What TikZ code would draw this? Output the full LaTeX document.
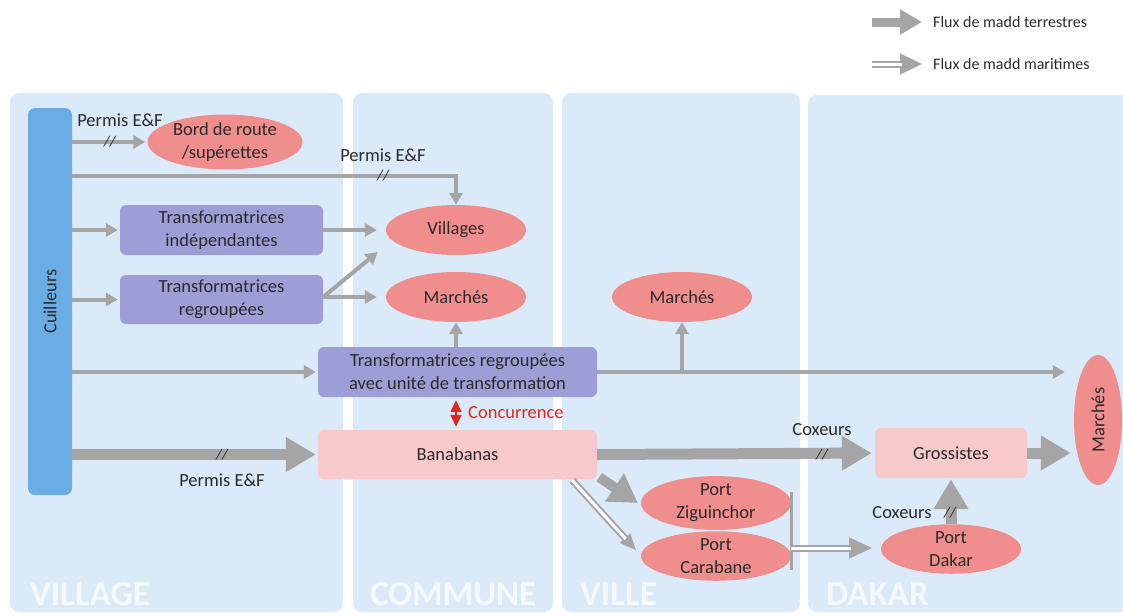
\documentclass[tikz,border=0pt]{standalone}
\usepackage{fontspec}
\setmainfont{Carlito}
\usetikzlibrary{arrows.meta,shapes.geometric,calc}
\definecolor{panelbg}{HTML}{DAEAF8}
\definecolor{barblue}{HTML}{6AADE5}
\definecolor{salmon}{HTML}{F08D8D}
\definecolor{lav}{HTML}{9D9ED6}
\definecolor{pinkbox}{HTML}{F8C9CA}
\definecolor{agray}{HTML}{A5A5A5}
\definecolor{txt}{HTML}{2A2A2A}
\definecolor{cred}{HTML}{E52521}
\definecolor{plab}{HTML}{F4F9FE}
\begin{document}
\begin{tikzpicture}[x=1pt,y=-1pt, font=\fontsize{18.5}{23}\selectfont, text=txt,
  panel/.style={fill=panelbg, rounded corners=9pt},
  plabel/.style={font=\fontsize{35}{35}\selectfont\bfseries, text=plab, anchor=base west, inner sep=0pt},
  ell/.style={ellipse, fill=salmon, inner sep=0pt, align=center},
  pbox/.style={rectangle, rounded corners=6pt, fill=lav, inner sep=0pt, align=center},
  kbox/.style={rectangle, rounded corners=6pt, fill=pinkbox, inner sep=0pt, align=center},
  tarr/.style={draw=agray, line width=4pt, -{Triangle[length=12pt,width=13pt]}},
  barr/.style={draw=agray, line width=11pt, -{Triangle[length=30pt,width=33pt]}},
  dline/.style={draw=agray, line width=2pt, double=white, double distance=3pt},
  dhead/.style={draw=agray, fill=agray, line width=1pt, -{Triangle[length=23pt,width=21pt]}},
  slash/.style={font=\fontsize{15}{15}\selectfont\itshape, inner sep=0pt},
  lbl/.style={font=\fontsize{18.5}{22}\selectfont, inner sep=1pt},
  leg/.style={font=\fontsize{16}{18}\selectfont, anchor=west, inner sep=0pt}
]
\useasboundingbox (0,0) rectangle (1123,614);
% panels
\fill[panel] (10,93) rectangle (343,612);
\fill[panel] (353,93) rectangle (553,612);
\fill[panel] (562,93) rectangle (800,612);
\fill[panel] (808,95) rectangle (1150,612);
\node[plabel] (pv) at (30,605) {VILLAGE};
\node[plabel] (pc0) at (370,605) {COMMUNE};
\node[plabel] (pvi) at (580,605) {VILLE};
\node[plabel] (pd0) at (826,605) {DAKAR};

% legend
\coordinate (l1a) at (872,22); \coordinate (l1b) at (922,22);
\coordinate (l2a) at (872,64); \coordinate (l2b) at (922,64);
\draw[draw=agray, line width=9pt, -{Triangle[length=22pt,width=24pt]}] (l1a) -- (l1b);
\draw[dhead, -{Triangle[length=22pt,width=21pt]}] (l2a) -- (l2b);
\draw[dline, shorten >=20pt] (l2a) -- (l2b);
\node[leg] (lt1) at (933,22) {Flux de madd terrestres};
\node[leg] (lt2) at (933,64) {Flux de madd maritimes};

% nodes
\node[rectangle, rounded corners=7pt, fill=barblue, minimum width=44pt, minimum height=387pt] (bar) at (50,301.5) {};
\node[rotate=90] (barl) at (bar.center) {Cuilleurs};
\node[ell, minimum width=155pt, minimum height=50pt] (bord) at (225,142) {Bord de route\\/supérettes};
\node[ell, minimum width=140pt, minimum height=50pt] (vill) at (456,230) {Villages};
\node[ell, minimum width=140pt, minimum height=50pt] (marc) at (456,297) {Marchés};
\node[pbox, minimum width=203pt, minimum height=50pt] (ti) at (221.5,230) {Transformatrices\\indépendantes};
\node[pbox, minimum width=203pt, minimum height=49pt] (tr) at (221.5,299.5) {Transformatrices\\regroupées};
\node[pbox, minimum width=279pt, minimum height=50pt] (tu) at (457.5,372) {Transformatrices regroupées\\avec unité de transformation};
\node[kbox, minimum width=279pt, minimum height=49pt] (bana) at (457.5,454.5) {Banabanas};
\node[ell, minimum width=140pt, minimum height=50pt] (marV) at (682,297) {Marchés};
\node[ell, minimum width=48pt, minimum height=130pt] (marD) at (1098,420) {};
\node[rotate=90] (marDl) at (marD.center) {Marchés};
\node[kbox, minimum width=152pt, minimum height=50pt] (gros) at (951,453) {Grossistes};
\node[ell, minimum width=150pt, minimum height=48pt] (pz) at (716,503) {Port\\Ziguinchor};
\node[ell, minimum width=150pt, minimum height=48pt] (pc) at (716,556) {Port\\Carabane};
\node[ell, minimum width=140pt, minimum height=48pt] (pd) at (951,549) {Port\\Dakar};

% thin connectors
\draw[tarr, shorten >=2pt] (bar.east |- bord.west) -- node[slash] (s1) {//} (bord.west);
\node[lbl] (p1) at (120,120) {Permis E\&F};
\draw[tarr] (bar.east |- 0,176) -| (vill.north);
\node[slash] (s2) at (383,176) {//};
\node[lbl] (p2) at (383,155) {Permis E\&F};
\draw[tarr, shorten >=2pt] (bar.east |- ti.west) -- (ti.west);
\draw[tarr, shorten >=2pt] (bar.east |- tr.west) -- (tr.west);
\draw[tarr, shorten >=9pt] (ti.east) -- (vill.west);
\coordinate (trs) at (tr.east |- marc.west);
\coordinate (vdiag) at ($(vill.west)+(-8,22)$);
\draw[tarr] (trs) -- (vdiag);
\draw[tarr, shorten >=9pt] (trs) -- (marc.west);
\draw[tarr, shorten >=2pt] (bar.east |- tu.west) -- (tu.west);
\draw[tarr] (tu.north -| marc.south) -- (marc.south);
\draw[tarr, shorten >=9pt] (tu.east) -- (marD.west |- tu.east);
\draw[tarr] (marV.south |- tu.east) -- (marV.south);

% concurrence
\draw[draw=cred, fill=cred, line width=1.5pt, {Triangle[length=12pt,width=11pt]}-{Triangle[length=12pt,width=11pt]}, shorten <=3pt, shorten >=3pt] (tu.south -| marc.south) -- (bana.north -| marc.south);
\node[anchor=west, text=cred, inner sep=0pt] (conc) at (468,413) {Concurrence};

% thick connectors
\draw[barr, shorten >=2pt] (bar.east |- bana.west) -- (bana.west);
\node[slash] (s3) at (222,455) {//};
\node[lbl] (p3) at (222,480) {Permis E\&F};
\draw[barr, shorten >=3pt] (bana.east) -- (gros.west);
\node[slash] (s4) at (822,455) {//};
\node[lbl] (cx1) at (822,430) {Coxeurs};
\draw[barr, shorten >=3pt] (gros.east) -- (marD.west |- gros.east);
\coordinate (bz) at ($(bana.south east)+(2,-2)$);
\draw[barr, line width=10pt, -{Triangle[length=28pt,width=32pt]}] (bz) -- ($(pz.west)+(-3,0)$);
\draw[barr, shorten >=1pt] (pd.north) -- (gros.south);
\node[slash] (s5) at (950,513) {//};
\node[lbl] (cx2) at (902,513) {Coxeurs};

% maritime connectors
\coordinate (bc) at ($(bana.south east)+(-25,1)$);
\coordinate (pce) at ($(pc.west)+(-5,-6)$);
\draw[dhead, -{Triangle[length=16pt,width=14pt]}] (bc) -- (pce);
\draw[dline, shorten >=15pt] (bc) -- (pce);
\coordinate (vb1) at (791,492);
\coordinate (vb2) at (791,570);
\draw[agray, line width=3pt] (vb1) -- (vb2);
\coordinate (vbm) at (791,548);
\coordinate (pdw) at (872,548);
\draw[dhead] (vbm) -- (pdw);
\draw[dline, shorten >=21pt] (vbm) -- (pdw);
\end{tikzpicture}
\end{document}
